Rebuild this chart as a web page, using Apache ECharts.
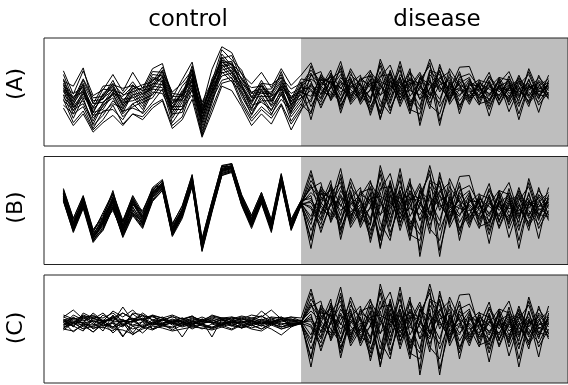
<!DOCTYPE html>
<html>
<head>
<meta charset="utf-8">
<script src="https://cdn.jsdelivr.net/npm/echarts@6/dist/echarts.min.js"></script>
<style>
html, body { margin: 0; padding: 0; background: #fff; }
#chart { width: 568px; height: 385px; }
</style>
</head>
<body>
<div id="chart"></div>
<script>
/**
 * 50 samples per line: 25 control, then 25 disease
 * disease part is the same in all three panels
 */
var groupTitles = ['control', 'disease'];
var panelNames = ['(A)', '(B)', '(C)'];
var diseaseFrom = 25;

// panel A control (its own y scale, +-74)
var controlA = [
    [29, -3, 29, -5, 3, 24, 1, 27, 5, 32, 39, -8, 17, 41, -20, 31, 62, 54, 24, 11, 27, 6, 32, 9, 23],
    [15, 8, 33, -16, 8, 10, 5, 9, 2, 28, 27, 0, 12, 30, -14, 14, 58, 44, 30, -2, 12, 10, 20, 4, 12],
    [24, -10, 18, -8, -6, 16, -12, 4, 10, 14, 34, -2, -4, 36, -18, 10, 46, 50, 16, 6, 8, -4, 28, -10, 18],
    [8, -2, 6, -22, 4, 2, -2, 14, -4, 24, 22, -16, 8, 24, -30, 18, 44, 38, 26, -8, 16, -6, 14, -2, 6],
    [18, -14, 16, -12, -10, 12, -4, 0, 6, 10, 30, -6, -6, 32, -22, 6, 52, 36, 12, 0, 4, 4, 24, -14, 14],
    [4, -6, 0, -28, -2, 10, -16, 10, -8, 20, 16, -20, 2, 18, -24, 14, 40, 42, 10, -12, 12, -10, 10, -6, 2],
    [16, -18, 12, -16, -14, -2, -6, 8, 2, 6, 28, -10, -10, 30, -36, 2, 48, 32, 20, -2, 0, 0, 20, -18, 10],
    [2, -8, 10, -28, -4, 8, -18, -4, 0, 18, 14, -22, 0, 16, -26, 12, 36, 40, 8, -14, 10, -12, 8, -8, 0],
    [12, -20, -2, -20, -6, 6, -20, 6, -12, 16, 24, -12, -12, 26, -28, 0, 34, 38, 18, -6, -2, -2, 16, -20, 8],
    [0, -12, 8, -32, -16, 4, -10, -8, -2, 4, 22, -24, -2, 14, -30, 10, 44, 28, 6, -16, 8, -14, 6, -12, -4],
    [10, -22, -6, -24, -8, 2, -24, 2, -16, 12, 10, -16, -4, 24, -42, -4, 42, 26, 14, -8, -6, -6, 4, -24, 6],
    [-4, -16, 4, -36, -20, 0, -14, -12, -6, 10, 20, -28, -6, 10, -34, 6, 30, 34, 2, -22, 4, -18, 12, -16, -8],
    [6, -26, 2, -28, -24, -2, -28, -2, -20, 8, 6, -20, -20, 20, -46, -8, 38, 22, 10, -24, 2, -20, 0, -28, 2],
    [-8, -20, -12, -40, -14, -4, -30, -16, -10, -4, 16, -32, -10, 6, -38, 2, 26, 30, -2, -26, -12, -12, 8, -30, -12],
    [2, -30, -2, -32, -28, -16, -22, -6, -24, 4, 2, -24, -24, 16, -50, -12, 34, 18, 6, -18, -14, -24, -4, -22, -2],
    [-12, -24, -16, -44, -18, -8, -34, -20, -14, -8, 12, -36, -14, 2, -42, -2, 22, 26, -6, -30, -4, -26, 4, -34, -16],
    [-4, -36, -8, -46, -32, -12, -26, -22, -28, 0, -2, -30, -28, 10, -54, -16, 28, 14, 0, -32, -8, -30, -10, -26, -8],
    [-18, -30, -20, -50, -26, -24, -38, -16, -30, -14, 4, -42, -22, -4, -58, -10, 16, 20, -12, -36, -20, -32, -2, -40, -20],
    [-10, -42, -26, -52, -38, -18, -44, -30, -34, -18, -10, -46, -34, 4, -60, -22, 12, 16, -16, -40, -24, -36, -16, -44, -24],
    [-22, -46, -30, -55, -42, -32, -46, -30, -38, -22, -12, -50, -38, -10, -62, -28, 8, 2, -20, -46, -30, -44, -18, -52, -26]
];

// panel B control, lines follow one tight profile
var controlB = [
    [21, -8, 14, -20, -4, 16, -12, 12, -3, 22, 29, -14, 5, 35, -29, 9, 45, 46, 15, -5, 18, -10, 36, -9, 10],
    [18, -12, 13, -22, -2, 18, -10, 14, -6, 20, 30, -17, 2, 33, -31, 8, 43, 47, 14, -8, 15, -12, 35, -11, 9],
    [20, -10, 10, -24, -8, 12, -16, 6, 0, 21, 27, -15, 1, 32, -33, 6, 44, 44, 13, -9, 16, -14, 33, -12, 8],
    [16, -13, 12, -21, -7, 20, -17, 9, -8, 17, 28, -18, 0, 31, -32, 5, 42, 45, 12, -7, 14, -13, 34, -13, 9],
    [17, -14, 9, -25, -14, 8, -21, 4, -14, 19, 26, -19, 0, 30, -34, 6, 41, 44, 11, -11, 13, -16, 33, -14, 8],
    [14, -17, 10, -27, -10, 10, -12, 12, -9, 16, 24, -21, -3, 30, -36, 3, 41, 43, 10, -13, 12, -17, 31, -15, 7],
    [12, -15, 6, -28, -13, 6, -19, 8, -12, 14, 26, -20, -4, 29, -35, 2, 40, 42, 9, -12, 11, -16, 30, -15, 7],
    [16, -17, 8, -26, -16, 4, -23, 1, -14, 17, 24, -22, -2, 28, -37, 2, 39, 42, 10, -12, 12, -18, 30, -16, 7],
    [11, -18, 5, -27, -15, 9, -20, 6, -6, 14, 23, -22, -3, 27, -36, 1, 38, 41, 8, -14, 10, -17, 29, -16, 6],
    [14, -19, 6, -30, -17, 6, -24, 0, -13, 13, 22, -23, -4, 27, -38, 2, 37, 40, 7, -15, 11, -19, 29, -17, 6],
    [10, -20, 4, -29, -18, 2, -25, -2, -16, 11, 22, -24, -5, 26, -38, 0, 37, 40, 7, -15, 8, -19, 28, -18, 7],
    [12, -18, 5, -31, -12, 11, -18, -3, -15, 13, 21, -24, -6, 25, -39, 0, 36, 39, 6, -16, 9, -20, 27, -18, 6],
    [9, -21, 3, -30, -20, 3, -26, -4, -17, 10, 20, -25, -6, 25, -40, -1, 35, 39, 6, -16, 8, -20, 27, -19, 5],
    [22, -8, 15, -19, -6, 17, -11, 15, -2, 23, 31, -13, 4, 36, -28, 9, 45, 47, 16, -5, 18, -9, 37, -9, 10],
    [17, -13, 10, -25, -8, 14, -16, 10, -10, 18, 25, -19, -1, 29, -34, 4, 40, 43, 10, -11, 12, -15, 31, -14, 7],
    [13, -16, 6, -28, -11, 0, -22, -2, -12, 15, 23, -21, -3, 28, -36, 1, 39, 42, 9, -12, 10, -17, 30, -16, 7],
    [17, -13, 9, -24, -9, 12, -16, 7, -7, 18, 26, -18, -1, 31, -33, 5, 41, 44, 12, -10, 14, -15, 32, -13, 8],
    [14, -15, 8, -26, -12, 9, -20, 3, -11, 16, 25, -20, -2, 29, -35, 3, 40, 43, 10, -12, 12, -16, 31, -15, 7],
    [19, -12, 11, -23, -11, 13, -14, 10, -5, 19, 27, -17, 1, 32, -33, 5, 42, 45, 12, -9, 15, -14, 33, -13, 8],
    [10, -22, 2, -32, -19, 4, -27, -5, -18, 9, 20, -26, -8, 24, -41, -2, 35, 38, 5, -18, 7, -22, 26, -20, 5]
];

// panel C control, flat narrow band
var controlC = [
    [12, 19, 10, 14, 8, 18, 12, 19, 9, 13, 11, 14, 10, 12, 9, 13, 11, 12, 10, 14, 12, 19, 10, 12, 11],
    [8, 6, 14, 10, 16, 7, 22, 8, 16, 9, 12, 7, 11, 8, 12, 8, 11, 9, 12, 8, 18, 10, 12, 8, 9],
    [4, 7, 0, 9, 3, 6, -8, 8, 2, -1, 4, 6, 2, 5, 0, 5, 2, 6, 1, 4, 0, 5, 2, 6, 5],
    [-1, 6, 4, -3, 5, 2, 8, 3, -4, 5, 3, 1, 6, 0, 5, 1, 4, 0, 5, 1, 4, 0, -6, 2, 6],
    [8, 4, 12, 7, -2, 14, 3, 9, 10, 4, 9, 6, -8, 7, 5, 10, 4, 7, 6, 9, 5, 10, 6, 4, 7],
    [12, 8, 6, 16, 8, 2, 10, -4, 8, 13, 6, 10, 7, 11, 8, -8, 10, 7, 11, 6, 10, 7, 9, 8, 7],
    [0, 12, 5, 4, 14, 8, 16, 10, 2, 7, 10, 4, 8, 3, 10, 6, 3, 9, 3, 8, 5, 7, 10, 3, 6],
    [10, 2, 16, 11, 7, 13, 3, 16, 14, 9, 8, 13, 6, 10, 7, 12, 10, 6, 10, 8, 13, 6, 10, 12, 8],
    [6, 3, -2, 11, 7, -4, 5, 0, 3, 9, 5, -1, 4, 8, 3, 1, 7, 4, 1, 8, 3, 6, 0, 3, 6],
    [4, 14, 9, 0, 6, 12, 4, 8, 14, 0, 6, 8, 11, 5, 9, 7, 5, 12, 8, 3, 7, 5, 8, 10, 5],
    [14, 10, 12, 13, 8, 11, 16, 10, 13, 12, 9, 12, 10, 13, 7, 14, 11, 10, 13, 11, 9, 12, 11, 10, 8],
    [2, 6, 0, 3, 8, 1, 6, -6, 2, 7, 4, 2, 6, 3, 5, 2, 5, 3, 2, 6, 3, 12, 2, 4, 6],
    [3, 11, 6, 2, 7, 10, 7, 11, 1, 6, 9, 6, 4, 8, 6, 7, 4, 9, 7, 4, 9, 6, 10, 4, 7],
    [8, 3, 11, 5, 1, 6, 2, 15, 8, 4, 5, 9, 7, 4, 10, 6, 9, 3, 8, 6, 5, 7, 4, 8, 6],
    [9, 11, 8, 12, 11, 16, 8, 7, 10, 14, 11, 6, 9, 13, 7, 11, 8, 11, 9, 11, 13, 8, 10, 9, 8],
    [7, -3, 5, 1, 2, -2, 8, 4, 7, 0, 3, 7, 5, 2, 4, 0, 4, 7, 1, 4, 0, 6, 2, 5, 6],
    [1, 6, 13, 7, 9, 8, -7, 3, 4, 14, 4, 6, 3, 7, 9, 6, 10, 4, 7, 10, 7, 4, 8, 6, 6],
    [7, 10, 2, 11, 3, 7, 8, 10, 9, 5, 10, 7, 9, 6, 5, 9, 6, 7, 5, 5, 8, 6, 12, 5, 7],
    [0, -2, 4, -3, 6, 0, -1, -5, 0, 3, 1, -2, 0, 2, 1, -1, 2, -1, 4, 0, -2, 4, 0, 3, 5],
    [9, 7, 6, 8, 6, 11, 9, 7, 11, 6, 5, 8, 7, 5, 8, 7, 5, 8, 6, 8, 6, 8, 5, 6, 6]
];

// disease part, shared by all panels
var disease = [
    [40, 5, -8, 20, 3, -10, 12, -5, 25, -12, 8, 27, -5, 15, 2, 34, 35, 0, -10, 8, 15, -6, 10, -4, 12],
    [-38, 12, 20, -5, 32, 8, -15, 45, 10, -8, 18, -10, 20, -46, 12, -4, 8, 17, -12, 5, -8, 23, -6, 14, 2],
    [15, -22, 8, 42, -6, 14, 30, -12, -30, 20, -14, 5, 45, 8, -10, 15, -6, 4, 27, -10, 10, -12, 32, 0, 8],
    [22, 28, -12, 10, 18, -17, 4, 20, 37, 0, 32, -46, 6, 18, 28, -30, 12, -8, 6, 20, -2, 8, -20, 23, -5],
    [-20, 6, 30, -29, 12, 23, -32, 8, -4, 42, -6, 14, -23, 38, -2, 6, -17, 12, -33, 12, 28, -4, 16, -10, 23],
    [8, -10, 18, 28, -17, 0, 16, -38, 14, 8, -30, 20, -2, -15, 32, 10, 2, -18, 14, -18, 6, 18, -4, 10, -8],
    [30, 14, 0, -14, 24, 10, -8, 28, -16, 24, 6, -20, 30, 24, -12, 20, 25, 6, -6, 14, -27, 4, 12, -28, 16],
    [-6, 20, 12, 6, -8, 18, 22, -20, 20, -20, 12, 10, -15, 10, 16, -12, 6, -4, 20, 0, 14, -38, 8, 6, -2],
    [26, -4, 24, -20, 8, -6, 2, 36, -8, 14, -24, -30, 16, -20, 6, 24, -8, 10, -20, 8, -12, 10, 24, -6, 10],
    [-28, 18, 4, 32, -12, 12, -20, 4, 28, -4, 20, 2, -10, 30, -17, 4, 18, -10, 8, -6, 18, 2, -12, 16, 4],
    [4, -14, 16, -10, 20, -12, 24, -4, 6, 30, -18, 16, 36, 0, 20, -18, -4, 14, -4, 16, -6, 12, 0, -14, 6],
    [36, 2, -6, 16, -4, 6, -24, 18, -22, 6, 26, -10, 4, 28, -6, 12, 20, -14, 16, -12, 22, -16, 6, 12, -10],
    [-14, 24, 10, -18, 6, 16, 10, -28, 30, -12, 4, 24, -18, -30, 14, -20, 10, 8, -24, 10, -14, 16, -8, 4, 14],
    [12, -8, 26, 4, 28, -8, -14, 40, 2, 16, -10, -24, 24, 6, -8, 28, -12, 2, 10, -16, 8, -20, 18, -18, 0],
    [18, 8, -4, 36, -10, 20, 6, -30, 16, -16, 28, 6, -8, 20, 4, -6, 16, -16, -12, 18, -18, 6, -14, 8, 18],
    [-30, 16, 14, -12, 14, -2, 28, 10, -12, 36, -26, 20, 10, -10, 24, 8, -10, 12, 4, -4, 12, -8, 28, -4, -6],
    [2, -18, 6, 24, -2, 10, -10, 22, 24, -8, 14, -40, 28, 16, -14, 18, 4, -6, 22, 4, -10, 20, 2, 20, 6],
    [24, 10, 22, -24, 16, -14, 18, -36, 4, 20, -20, 8, -4, 34, 10, -24, 14, 6, -16, 20, 16, -30, 10, -8, 12],
    [-10, 22, -10, 14, -14, 4, -28, 12, -26, 10, 16, 12, 40, -40, 0, 10, -14, 16, 12, -10, 4, 14, -16, 2, -4],
    [10, -2, 14, 0, 10, -4, 12, 14, 8, -2, 2, -4, 14, 4, 8, 2, 0, 4, -2, 6, 2, 0, 6, 4, 8]
];

var panelControl = [controlA, controlB, controlC];
var panelRange = [74, 54, 54];
var panelTop = [38, 156.5, 275];
var panelHeight = 108;
// R style 4% padding around 1..50
var xMin = -0.96, xMax = 51.96;
var font = '"DejaVu Sans", sans-serif';

var grids = [], xAxes = [], yAxes = [], series = [], graphics = [];

panelControl.forEach(function (control, p) {
    grids.push({
        left: 44, right: -2, top: panelTop[p], height: panelHeight,
        show: true, z: 10, borderColor: '#222', borderWidth: 1,
        backgroundColor: 'transparent', containLabel: false
    });
    xAxes.push({ type: 'value', gridIndex: p, min: xMin, max: xMax, show: false });
    yAxes.push({ type: 'value', gridIndex: p, min: -panelRange[p], max: panelRange[p], show: false });

    // gray disease region
    series.push({
        type: 'line', xAxisIndex: p, yAxisIndex: p, z: 1, silent: true,
        symbol: 'none', lineStyle: { opacity: 0 }, data: [[diseaseFrom, 0]],
        markArea: {
            silent: true,
            itemStyle: { color: '#bebebe', opacity: 1 },
            data: [[{ xAxis: diseaseFrom }, { xAxis: xMax }]]
        }
    });

    control.forEach(function (row, k) {
        var values = row.concat(disease[k]);
        series.push({
            type: 'line', xAxisIndex: p, yAxisIndex: p, z: 2, silent: true,
            symbol: 'none',
            lineStyle: { color: '#000', width: 1 },
            data: values.map(function (v, i) { return [i + 1, v]; })
        });
    });

    graphics.push({
        type: 'text', x: 16, y: panelTop[p] + panelHeight / 2 - [8, 3, 1][p],
        rotation: Math.PI / 2,
        style: { text: panelNames[p], font: '22px ' + font, fill: '#000', textAlign: 'center', textVerticalAlign: 'middle' }
    });
});

graphics.push({
    type: 'text', x: 188, y: 20,
    style: { text: groupTitles[0], font: '23px ' + font, fill: '#000', textAlign: 'center', textVerticalAlign: 'middle' }
});
graphics.push({
    type: 'text', x: 437, y: 20,
    style: { text: groupTitles[1], font: '23px ' + font, fill: '#000', textAlign: 'center', textVerticalAlign: 'middle' }
});

var myChart = echarts.init(document.getElementById('chart'), null, { renderer: 'canvas' });
myChart.setOption({
    animation: false,
    backgroundColor: '#fff',
    grid: grids,
    xAxis: xAxes,
    yAxis: yAxes,
    series: series,
    graphic: graphics
});
</script>
</body>
</html>
